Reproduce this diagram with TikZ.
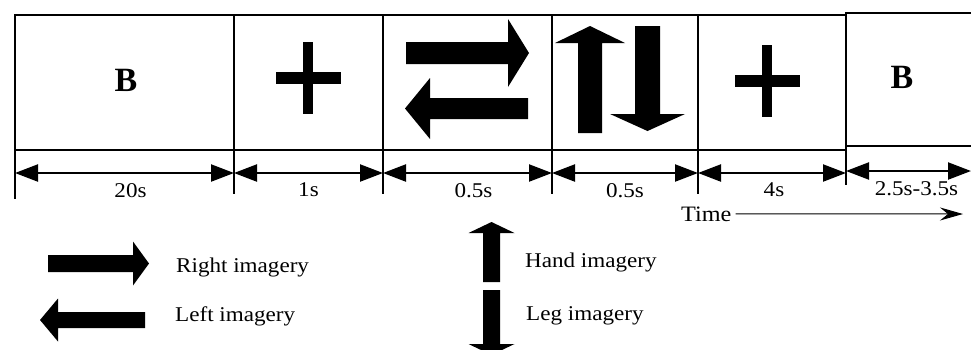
\documentclass[tikz,border=0pt]{standalone}
\usepackage{fontspec}
\setmainfont{Liberation Serif}[FakeStretch=1.1]
\newfontfamily\headfont{Liberation Serif}
\usetikzlibrary{arrows.meta}

\tikzset{
  frame/.style={draw, line width=1.2pt, inner sep=0pt, outer sep=0pt, anchor=north west},
  tick/.style={line width=1.2pt},
  dim/.style={line width=2.2pt, {Triangle[length=23pt,width=17pt]}-{Triangle[length=23pt,width=17pt]}},
  dimlabel/.style={font=\fontsize{21}{24}\selectfont, inner sep=0pt, below=9pt},
  legend/.style={font=\fontsize{21}{24}\selectfont, inner sep=0pt, anchor=base west},
  bigletter/.style={font=\headfont\bfseries\fontsize{34}{38}\selectfont, inner sep=0pt},
  pics/fatarrow/.style n args={4}{code={
    \fill (0,-#2) -- (#1-#4,-#2) -- (#1-#4,-#3) -- (#1,0) -- (#1-#4,#3) -- (#1-#4,#2) -- (0,#2) -- cycle;}},
  pics/fixcross/.style={code={
    \fill (-32.5,-6) rectangle (32.5,6);
    \fill (-5,-36) rectangle (5,36);}}
}

\begin{document}
\begin{tikzpicture}[x=1pt, y=-1pt]
  \useasboundingbox (0,0) rectangle (971,349);
  \node[frame, minimum width=219pt, minimum height=135pt] (b1) at (15,15) {};
  \node[frame, minimum width=149pt, minimum height=135pt] (b2) at (234,15) {};
  \node[frame, minimum width=169pt, minimum height=135pt] (b3) at (383,15) {};
  \node[frame, minimum width=146pt, minimum height=135pt] (b4) at (552,15) {};
  \node[frame, minimum width=148pt, minimum height=135pt] (b5) at (698,15) {};
  \node[frame, minimum width=129pt, minimum height=133pt] (b6) at (846,13) {};

  \node[bigletter] (blank1) at (126,80) {B};
  \node[bigletter] (blank2) at (902,77) {B};
  \pic at (308,78) {fixcross};
  \pic at (767,81) {fixcross};

  \pic at (406,53) {fatarrow={123}{11}{34}{21}};
  \pic[rotate=180] at (528,108.5) {fatarrow={123}{10.5}{30.5}{25}};
  \pic[rotate=90] at (590,133) {fatarrow={107}{12}{35}{17}};
  \pic[rotate=-90] at (647.5,26) {fatarrow={105}{12.5}{37.5}{17}};

  \draw[tick] (b1.south west) -- ++(0,49);
  \draw[tick] (b2.south west) -- ++(0,44);
  \draw[tick] (b3.south west) -- ++(0,44);
  \draw[tick] (b4.south west) -- ++(0,44);
  \draw[tick] (b5.south west) -- ++(0,44);
  \draw[tick] (b6.south west) -- ++(0,39);

  \coordinate (d0) at (15,173);
  \coordinate (d1) at (234,173);
  \coordinate (d2) at (383,173);
  \coordinate (d3) at (552,173);
  \coordinate (d4) at (698,173);
  \coordinate (d5) at (846,173);
  \coordinate (e5) at (846,171);
  \coordinate (e6) at (971,171);
  \draw[dim] (d0) -- node[dimlabel, xshift=6pt] (l1) {20s} (d1);
  \draw[dim] (d1) -- node[dimlabel] (l2) {1s} (d2);
  \draw[dim] (d2) -- node[dimlabel, xshift=6pt] (l3) {0.5s} (d3);
  \draw[dim] (d3) -- node[dimlabel] (l4) {0.5s} (d4);
  \draw[dim] (d4) -- node[dimlabel, xshift=2pt] (l5) {4s} (d5);
  \draw[dim] (e5) -- node[dimlabel, xshift=8pt] (l6) {2.5s-3.5s} (e6);

  \node[legend, font=\fontsize{22}{26}\selectfont] (time) at (681,221) {Time};
  \coordinate (tend) at (963,214);
  \draw[line width=1pt, -{Stealth[length=23pt,width=13pt,inset=8pt]}] ([xshift=4pt]time.east) -- (tend);

  \pic at (48,263.5) {fatarrow={101}{8.5}{22}{16}};
  \pic[rotate=180] at (145,320) {fatarrow={105}{8}{21.5}{18}};
  \pic[rotate=90] at (491.5,282) {fatarrow={60}{8.5}{23}{11}};
  \pic[rotate=-90] at (491.5,290) {fatarrow={65}{8.5}{23}{11}};

  \node[legend] (right) at (176,272) {Right imagery};
  \node[legend] (left) at (175,321) {Left imagery};
  \node[legend] (hand) at (525,267) {Hand imagery};
  \node[legend] (leg) at (526,320) {Leg imagery};
\end{tikzpicture}
\end{document}
